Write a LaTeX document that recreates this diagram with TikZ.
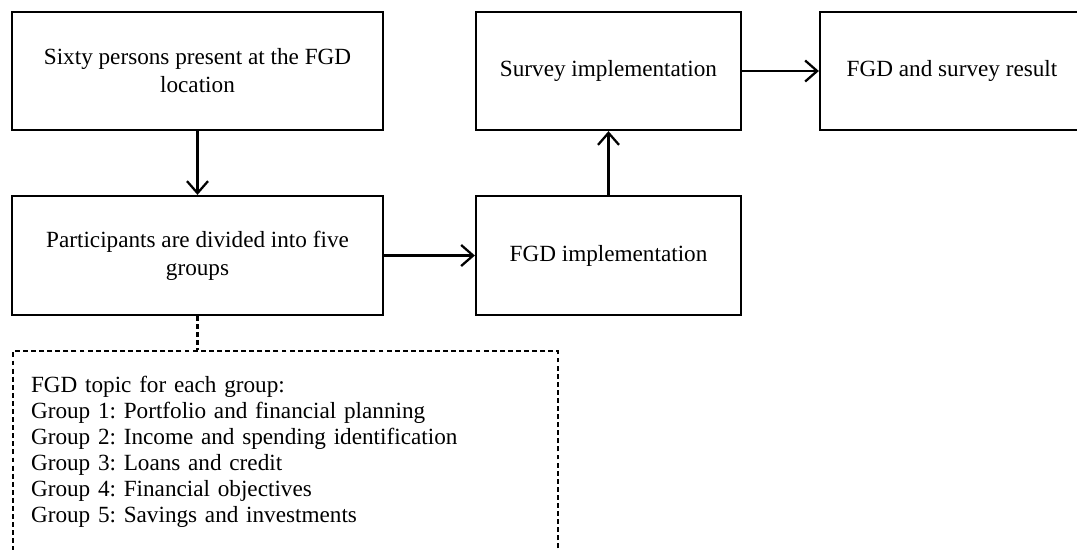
\documentclass[tikz,border=0pt]{standalone}
\usepackage{fontspec}
\setmainfont{Liberation Serif}
\usetikzlibrary{arrows.meta,positioning}

\tikzset{
    stagebox/.style={draw, line width=1.3pt, align=center, inner sep=2pt,
        font=\fontsize{13.2}{15.9}\selectfont},
    topicbox/.style={draw, dashed, dash pattern=on 2.8pt off 1.8pt, line width=1.2pt,
        align=left, inner xsep=0.36cm, text width=10.18cm, minimum height=4.04cm,
        font=\fontsize{13.2}{14.8}\selectfont},
    flow/.style={line width=1.3pt, -{Straight Barb[length=0.24cm, width=0.42cm, line width=1.3pt]}}
}

\begin{document}
\frenchspacing
\begin{tikzpicture}[x=0.02cm, y=-0.02cm]
            \clip (0,0) rectangle (1077,549);
            \useasboundingbox (0,0) rectangle (1077,549);
            % top row
            \node[stagebox, minimum width=7.42cm, minimum height=2.36cm] (sixty) at (197.5,71)
                {Sixty persons present at the FGD\\location};
            \node[stagebox, minimum width=5.3cm, minimum height=2.36cm] (survey) at (608.5,71)
                {Survey implementation};
            \node[stagebox, minimum width=5.28cm, minimum height=2.36cm] (result) at (952,71)
                {FGD and survey result};
            % second row
            \node[stagebox, minimum width=7.42cm, minimum height=2.38cm] (groups) at (197.5,255.5)
                {Participants are divided into five\\groups};
            \node[stagebox, minimum width=5.3cm, minimum height=2.38cm] (fgd) at (608.5,255.5)
                {FGD implementation};
            % topics per group
            \node[topicbox, anchor=north west] (topics) at (12,350)
                {FGD topic for each group:\\
                 Group 1: Portfolio and financial planning\\
                 Group 2: Income and spending identification\\
                 Group 3: Loans and credit\\
                 Group 4: Financial objectives\\
                 Group 5: Savings and investments};

            \draw[flow] (sixty) -- (groups);
            \draw[flow] (groups) -- (fgd);
            \draw[flow] (fgd) -- (survey);
            \draw[flow] (survey) -- (result);
            \draw[line width=1.2pt, dashed, dash pattern=on 2.8pt off 1.8pt]
                (groups.south) -- (groups.south |- topics.north);
        \end{tikzpicture}
\end{document}
